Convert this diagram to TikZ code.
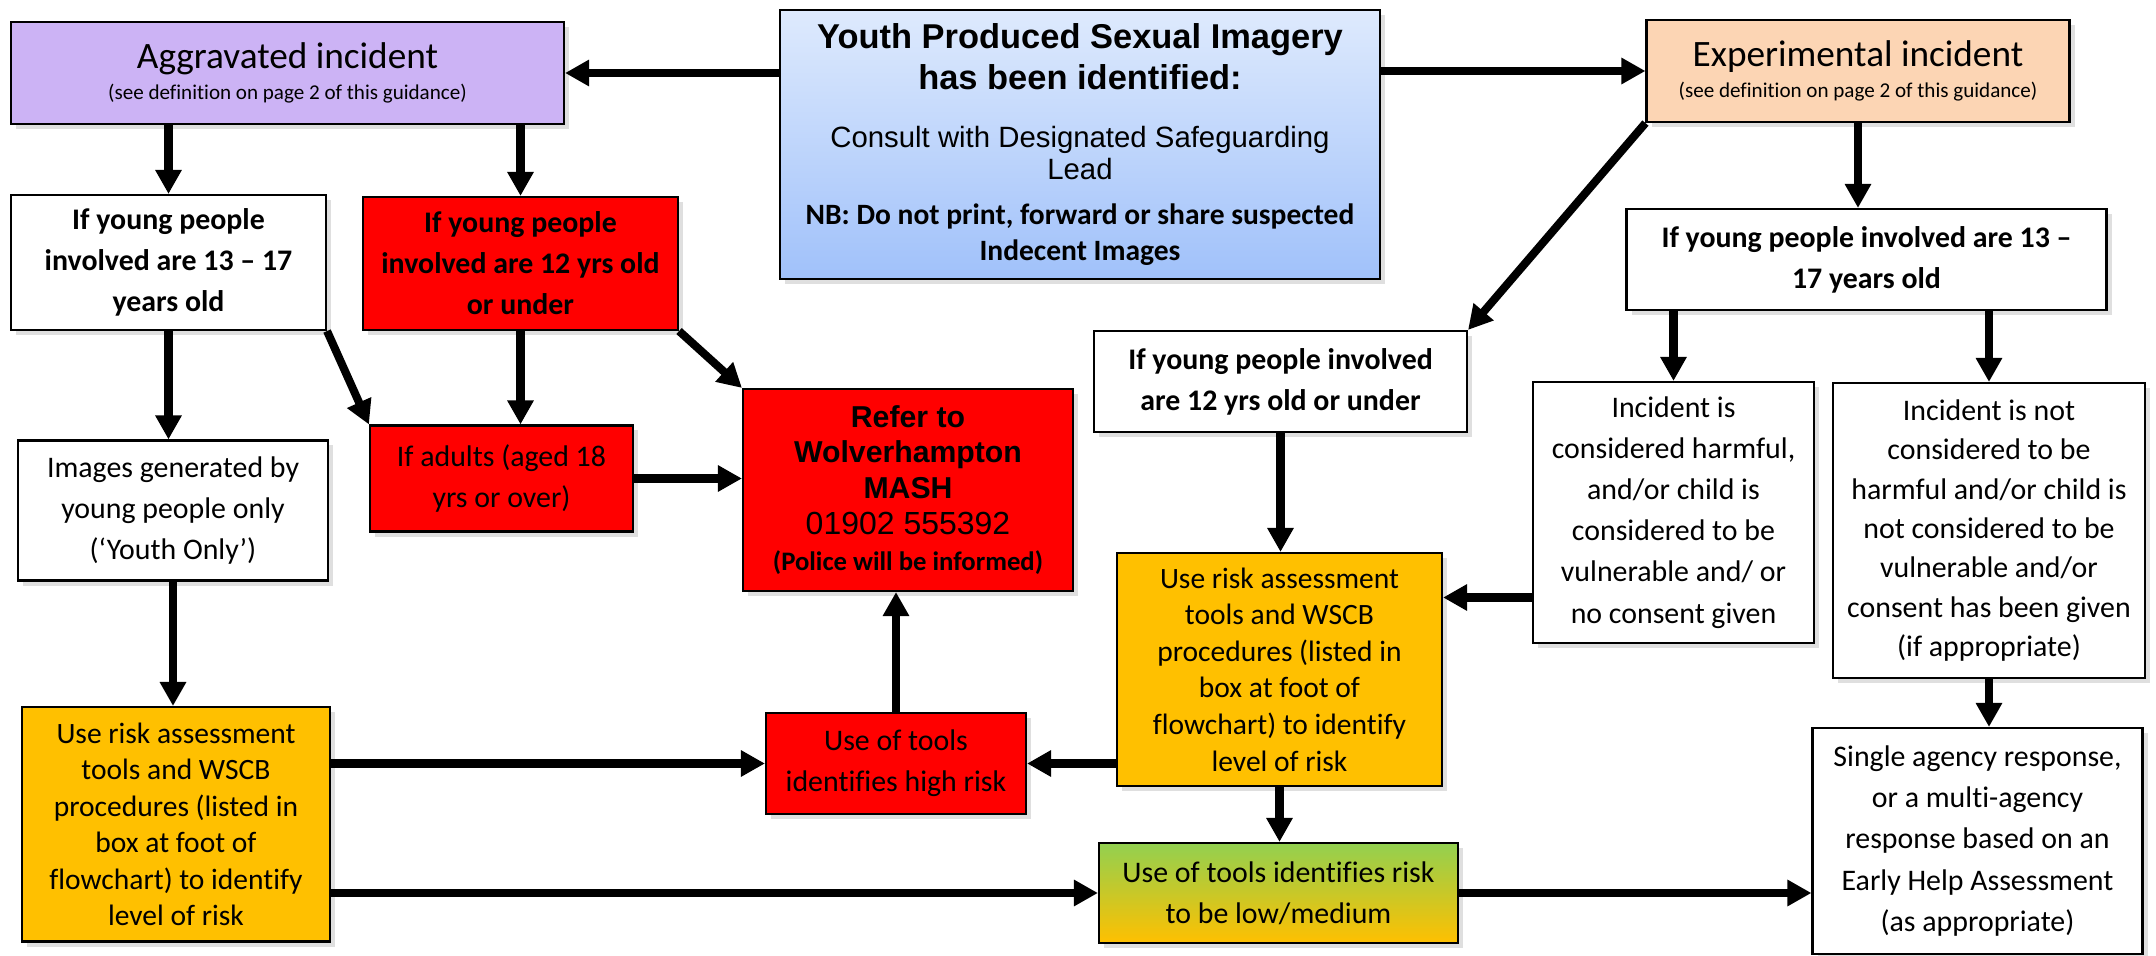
\documentclass[tikz,border=0pt]{standalone}
\usepackage{fontspec}
\setmainfont{Carlito}[Ligatures={TeX,NoCommon}]
\newfontfamily\arialfont{Liberation Sans}
\definecolor{aggravated}{RGB}{204,179,245}
\definecolor{experimental}{RGB}{252,213,180}
\definecolor{identtop}{RGB}{222,234,253}
\definecolor{identbottom}{RGB}{160,193,250}
\definecolor{refer}{RGB}{255,0,0}
\definecolor{risk}{RGB}{255,192,0}
\definecolor{lowtop}{RGB}{146,208,80}
\newcommand{\titlefont}{\fontsize{10.6}{12}\selectfont}
\newcommand{\notefont}{\fontsize{6}{8.8}\selectfont}
\newcommand{\idtitle}{\arialfont\bfseries\fontsize{9.8}{11.6}\selectfont}
\newcommand{\idsub}{\arialfont\mdseries\fontsize{8.35}{9.1}\selectfont}
\newcommand{\idnb}{\normalfont\bfseries\fontsize{8.4}{10.2}\selectfont}
\newcommand{\refbig}{\arialfont\bfseries\fontsize{8.6}{10}\selectfont}
\newcommand{\refnum}{\arialfont\mdseries\fontsize{9.1}{10.5}\selectfont}
\newcommand{\refsmall}{\normalfont\bfseries\fontsize{7.6}{10}\selectfont}
\usetikzlibrary{positioning, arrows.meta, shadows}

\begin{document}
\begin{tikzpicture}[x=1mm, y=-1mm,
		flowbox/.style={draw, line width=0.6pt, align=center, inner sep=0.5mm, fill=white,
			font=\fontsize{8.5}{11.7}\selectfont,
			drop shadow={shadow xshift=0.5mm, shadow yshift=-0.5mm, opacity=0.25}},
		boldbox/.style={flowbox, font=\bfseries\fontsize{8.5}{11.7}\selectfont},
		redbox/.style={flowbox, fill=refer},
		riskbox/.style={flowbox, fill=risk, font=\fontsize{8.4}{10.4}\selectfont},
		dims/.style 2 args={minimum width=#1mm, minimum height=#2mm},
		flow/.style={-{Triangle[length=2.4mm, width=2.5mm]}, line width=2.3pt}
		]
		\useasboundingbox (0,0) rectangle (215.6,95.6);
		
		\node[flowbox, fill=aggravated, dims={55.3}{10.2}] (agg) at (28.75,7.3)
			{\parbox{54mm}{\centering\titlefont Aggravated incident\\\notefont (see definition on page 2 of this guidance)}};
		\node[flowbox, top color=identtop, bottom color=identbottom, dims={60}{26.9}] (yp) at (108,14.45)
			{\parbox{59mm}{\centering\idtitle Youth Produced Sexual Imagery\\has been identified:\\[7.6pt]
			\idsub Consult with Designated Safeguarding\\Lead\\[2.6pt]
			\idnb NB: Do not print, forward or share suspected\\Indecent Images}};
		\node[flowbox, fill=experimental, dims={42.3}{10.2}] (exp) at (185.8,7.1)
			{\parbox{41mm}{\centering\titlefont Experimental incident\\\notefont (see definition on page 2 of this guidance)}};
		
		\node[boldbox, dims={31.5}{13.5}] (old) at (16.85,26.25) {If young people\\involved are 13 -- 17\\years old};
		\node[boldbox, fill=refer, dims={31.5}{13.3}] (young) at (52.05,26.35) {If young people\\involved are 12 yrs old\\or under};
		\node[boldbox, dims={48}{10.1}] (expold) at (186.65,25.95) {If young people involved are 13 --\\17 years old};
		\node[boldbox, dims={37.3}{10.1}] (expyoung) at (128.05,38.15) {If young people involved\\are 12 yrs old or under};
		
		\node[flowbox, dims={31}{14}] (youth) at (17.3,51.05) {Images generated by\\young people only\\(‘Youth Only’)};
		\node[redbox, dims={26.3}{10.6}] (adults) at (50.15,47.85) {If adults (aged 18\\yrs or over)};
		\node[redbox, dims={32.4}{20.2}] (mash) at (90.8,49)
			{\parbox{32mm}{\centering\refbig Refer to\\Wolverhampton\\MASH\\
			\refnum 01902 555392\\\refsmall (Police will be informed)}};
		\node[flowbox, dims={28.1}{26.1}] (harm) at (167.35,51.25)
			{Incident is\\considered harmful,\\and/or child is\\considered to be\\vulnerable and/ or\\no consent given};
		\node[flowbox, dims={31.2}{29.5}, font=\fontsize{8.5}{11.2}\selectfont] (noharm) at (198.9,53.05)
			{Incident is not\\considered to be\\harmful and/or child is\\not considered to be\\vulnerable and/or\\consent has been given\\(if appropriate)};
		
		\node[riskbox, dims={32.5}{23.3}] (riskexp) at (127.95,66.95)
			{Use risk assessment\\tools and WSCB\\procedures (listed in\\box at foot of\\flowchart) to identify\\level of risk};
		\node[redbox, dims={26}{10.1}] (high) at (89.6,76.35) {Use of tools\\identifies high risk};
		\node[riskbox, dims={30.8}{23.45}] (riskagg) at (17.6,82.43)
			{Use risk assessment\\tools and WSCB\\procedures (listed in\\box at foot of\\flowchart) to identify\\level of risk};
		\node[flowbox, top color=lowtop, bottom color=risk, dims={35.9}{10}] (low) at (127.85,89.3)
			{Use of tools identifies risk\\to be low/medium};
		\node[flowbox, dims={33}{22.6}] (single) at (197.75,84.1)
			{Single agency response,\\or a multi-agency\\response based on an\\Early Help Assessment\\(as appropriate)};
		
		\coordinate (harmout) at ([yshift=-8.5mm]harm.west);
		
		\draw[flow] (yp.west|-agg.east) -- (agg.east);
		\draw[flow] (yp.east|-exp.west) -- (exp.west);
		\draw[flow] (old.north|-agg.south) -- (old.north);
		\draw[flow] (young.north|-agg.south) -- (young.north);
		\draw[flow] (exp.south west) -- (expyoung.north east);
		\draw[flow] (exp.south) -- (exp.south|-expold.north);
		\draw[flow] (old.south) -- (old.south|-youth.north);
		\draw[flow] (old.south east) -- (adults.north west);
		\draw[flow] (young.south) -- (young.south|-adults.north);
		\draw[flow] (young.south east) -- (mash.north west);
		\draw[flow] (adults.east) -- (adults.east-|mash.west);
		\draw[flow] (youth.south) -- (youth.south|-riskagg.north);
		\draw[flow] (riskagg.east|-high.west) -- (high.west);
		\draw[flow] (riskagg.east|-low.west) -- (low.west);
		\draw[flow] (high.north) -- (high.north|-mash.south);
		\draw[flow] (expyoung.south) -- (expyoung.south|-riskexp.north);
		\draw[flow] (harmout) -- (harmout-|riskexp.east);
		\draw[flow] (harm.north|-expold.south) -- (harm.north);
		\draw[flow] (noharm.north|-expold.south) -- (noharm.north);
		\draw[flow] (riskexp.west|-high.east) -- (high.east);
		\draw[flow] (riskexp.south) -- (riskexp.south|-low.north);
		\draw[flow] (low.east) -- (low.east-|single.west);
		\draw[flow] (noharm.south) -- (noharm.south|-single.north);
		
	\end{tikzpicture}
\end{document}
